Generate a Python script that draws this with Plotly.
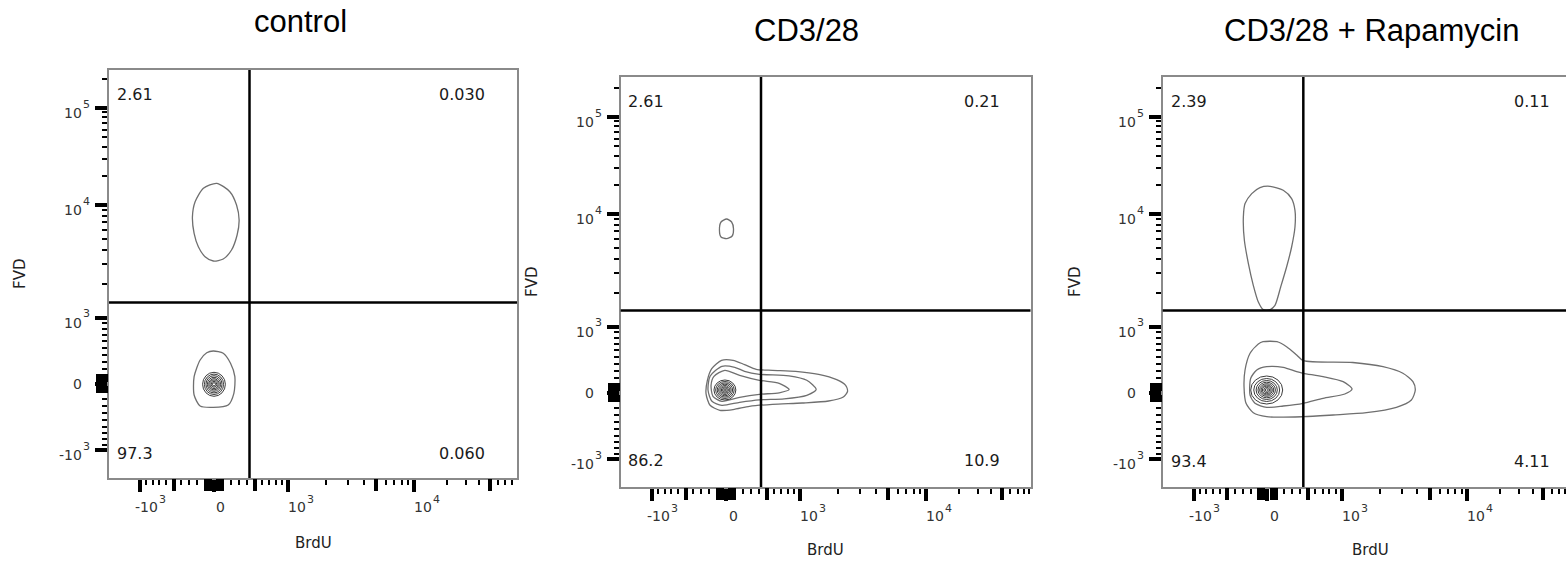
import numpy as np
import plotly.graph_objects as go

W, H = 1566, 562

# ---------------- data ----------------
panel_titles = ["control", "CD3/28", "CD3/28 + Rapamycin"]
x_title = "BrdU"
y_title = "FVD"

# quadrant frequencies (%): upper-left, upper-right, lower-left, lower-right
quad_ul = ["2.61", "2.61", "2.39"]
quad_ur = ["0.030", "0.21", "0.11"]
quad_ll = ["97.3", "86.2", "93.4"]
quad_lr = ["0.060", "10.9", "4.11"]

# quadrant gate positions (raw units)
gate_brdu = [434, 427, 438]
gate_fvd = [1360, 1390, 1390]

# axis ticks (raw units) and their labels (base + exponent)
x_label_ticks = [-1000, 0, 1000, 10000]
x_label_base = ["-10", "0", "10", "10"]
x_label_exp = ["3", "", "3", "4"]
y_label_ticks = [-1000, 0, 1000, 10000, 100000]
y_label_base = ["-10", "0", "10", "10", "10"]
y_label_exp = ["3", "", "3", "4", "5"]
x_heavy_ticks = [-500, -100, -50, 50, 100, 500, 5000, 50000]
y_heavy_ticks = [-100, -50, 50, 100]
minor_ticks = [-900, -800, -700, -600, -400, -300, -200, 200, 300, 400, 600, 700, 800, 900,
               2000, 3000, 4000, 6000, 7000, 8000, 9000,
               20000, 30000, 40000, 60000, 70000, 80000, 90000, 200000]
y_extra_minor = [-500, 500, 5000, 50000]

# contour outlines, in biexponential display units
ctrl_dead_x = [2.4, 14.2, 20.2, 22.5, 20.7, 15.7, 8.3, -0.6, -8.0, -14.0, -17.8, -19.3, -16.9, -9.5]
ctrl_dead_y = [200.7, 192.3, 179.0, 164.0, 149.0, 134.0, 125.0, 123.0, 127.3, 137.3, 150.7, 167.3, 182.3, 195.7]
ctrl_live_x = [-0.6, 8.3, 14.8, 18.7, 17.8, 12.7, -0.6, -12.4, -17.8, -17.8, -12.4, -6.5]
ctrl_live_y = [33.0, 30.7, 20.7, 7.3, -9.3, -21.0, -23.3, -22.0, -11.0, 7.3, 24.0, 31.3]
ctrl_core_center = [0.0, -0.3]
ctrl_core_rx = [10.2, 8.6, 7.2, 5.9, 4.7, 3.6, 2.5, 1.4]
ctrl_core_ry = [12.0, 10.2, 8.6, 7.0, 5.6, 4.2, 2.9, 1.6]

cd3_dead_x = [0.5, 5.0, 6.7, 5.5, 0.5, -4.5, -5.9, -4.5]
cd3_dead_y = [174.0, 171.0, 164.0, 157.0, 154.3, 156.0, 163.0, 171.0]
cd3_c1_x = [-4.0, 6.3, 16.6, 27.0, 41.6, 62.3, 82.9, 99.1, 107.1, 108.8, 105.0, 91.8, 68.2, 41.6,
            21.0, 6.3, -5.5, -14.3, -17.9, -16.7, -12.8]
cd3_c1_y = [32.7, 32.7, 28.4, 23.7, 22.7, 21.7, 18.7, 13.4, 7.7, 1.7, -4.0, -8.0, -10.0, -11.3,
            -13.3, -16.6, -17.3, -12.3, -0.6, 12.7, 24.4]
cd3_c2_x = [-16.1, -14.3, -3.7, 7.8, 16.6, 29.9, 56.4, 72.3, 80.7, 72.3, 52.0, 29.9, 12.2, -3.7, -12.6]
cd3_c2_y = [2.7, 16.7, 26.7, 25.7, 21.7, 18.7, 17.2, 12.7, 3.5, -2.3, -5.8, -6.8, -9.3, -12.3, -8.3]
cd3_c3_x = [-13.4, -10.8, -1.1, 12.2, 29.9, 47.6, 56.5, 47.6, 29.9, 12.2, -3.7, -11.7]
cd3_c3_y = [7.7, 16.7, 22.7, 17.7, 12.7, 9.7, 3.5, 0.2, -1.3, -4.3, -8.3, -3.3]
cd3_core_center = [-1.0, 3.0]
cd3_core_rx = [9.8, 8.3, 6.9, 5.6, 4.4, 3.2, 2.1, 1.0]
cd3_core_ry = [10.0, 8.5, 7.1, 5.8, 4.5, 3.3, 2.2, 1.0]

rapa_dead_x = [2.2, 14.1, 21.6, 24.6, 24.6, 21.6, 17.1, 11.8, 6.7, 2.2, -3.8, -8.2, -12.7, -17.1,
               -20.7, -21.6, -20.1, -14.1, -6.7]
rapa_dead_y = [206.7, 202.7, 194.4, 182.7, 166.0, 146.0, 126.0, 106.0, 87.7, 83.4, 83.4, 91.0, 107.7,
               129.4, 152.7, 176.0, 189.4, 199.4, 205.4]
rapa_c1_x = [-21.0, -20.1, -15.6, -8.2, -4.0, 8.5, 17.1, 26.1, 32.0, 76.3, 103.4, 121.2, 130.2, 132.3,
             128.8, 115.4, 88.6, 58.8, 32.0, -0.7, -12.7, -19.2]
rapa_c1_y = [6.3, 23.0, 39.7, 49.0, 51.3, 51.3, 46.3, 38.0, 32.3, 30.5, 26.3, 19.7, 11.3, 3.0,
             -7.0, -14.3, -19.7, -22.0, -23.7, -23.7, -19.7, -10.3]
rapa_c2_x = [-15.6, -15.0, -9.6, -0.7, 14.1, 26.1, 32.0, 49.8, 67.7, 75.7, 69.2, 49.8, 32.0, 14.1, -0.7, -11.2]
rapa_c2_y = [-2.0, 14.7, 23.0, 26.3, 25.7, 21.3, 19.7, 16.3, 11.3, 4.0, -1.0, -5.3, -10.3, -13.0, -14.3, -10.3]
rapa_core_center = [-0.7, 3.0]
rapa_core_rx = [14.3, 11.6, 9.5, 7.8, 6.3, 5.0, 3.8, 2.6, 1.3]
rapa_core_ry = [14.0, 11.5, 9.5, 7.8, 6.3, 5.0, 3.8, 2.6, 1.3]


# ---------------- biexponential display scale ----------------
def biex(v):
    v = np.asarray(v, dtype=float)
    out = np.empty_like(v)
    lin = np.abs(v) <= 1000
    scale = np.where(v >= 0, 66.5, 66.0)
    out[lin] = (scale * np.arcsinh(v / 1000.0) / np.arcsinh(1.0))[lin]
    hi = v > 1000
    out[hi] = np.interp(np.log10(v[hi]), [3, 4, 5, 6], [66.5, 179.0, 276.0, 373.0])
    lo = v < -1000
    out[lo] = -66.0 - (np.log10(-v[lo]) - 3) * 100.0
    return out


# ---------------- layout geometry (pixels) ----------------
boxes = [  # left, top, right, bottom
    (109.0, 70.0, 517.0, 478.0),
    (620.7, 77.0, 1030.5, 487.0),
    (1162.7, 77.0, 1566.0, 487.0),
]
x_ranges = [[-94.0, 271.3], [-94.3, 272.6], [-93.8, 267.2]]
y_ranges = [[-94.0, 314.0], [-94.0, 316.0], [-94.0, 316.0]]
title_pos = [(300, 22), (806, 30), (1372, 30)]
xt_pos = [(313, 543), (825.6, 550), (1370, 550)]
yt_pos = [(20, 274), (532, 282), (1075, 282)]
quad_left = [117.0, 628.2, 1171.0]
quad_right = [485.0, 1000.5, 1549.7]
quad_top = [94.0, 101.4, 101.5]
quad_bottom = [453.0, 460.6, 461.5]

px = lambda x: x / W
py = lambda y: 1 - y / H

outlines = [
    [(ctrl_dead_x, ctrl_dead_y), (ctrl_live_x, ctrl_live_y)],
    [(cd3_dead_x, cd3_dead_y), (cd3_c1_x, cd3_c1_y), (cd3_c2_x, cd3_c2_y), (cd3_c3_x, cd3_c3_y)],
    [(rapa_dead_x, rapa_dead_y), (rapa_c1_x, rapa_c1_y), (rapa_c2_x, rapa_c2_y)],
]
cores = [
    (ctrl_core_center, ctrl_core_rx, ctrl_core_ry),
    (cd3_core_center, cd3_core_rx, cd3_core_ry),
    (rapa_core_center, rapa_core_rx, rapa_core_ry),
]

fig = go.Figure()
shapes = []
annotations = []
base_font = dict(family="DejaVu Sans", size=14, color="#333333")
exp_font = dict(family="DejaVu Sans", size=11, color="#333333")
axis_common = dict(showgrid=False, zeroline=False, ticks="outside", tickcolor="black",
                   fixedrange=True)


def label(text, font, **kw):
    d = dict(text=text, showarrow=False, font=font, borderpad=0, borderwidth=0)
    d.update(kw)
    annotations.append(d)


for p in range(3):
    n = p + 1
    xa = "x" if p == 0 else f"x{n}"
    ya = "y" if p == 0 else f"y{n}"
    xo, yo = f"x{n + 3}", f"y{n + 3}"  # overlay axes carrying the heavy ticks
    l, t, r, b = boxes[p]

    for cx, cy in outlines[p]:
        fig.add_trace(go.Scatter(
            x=list(cx) + [cx[0]], y=list(cy) + [cy[0]], mode="lines",
            line=dict(color="#6f6f6f", width=1.3, shape="spline", smoothing=0.7),
            xaxis=xa, yaxis=ya, hoverinfo="skip", showlegend=False))
    # empty trace so that the overlay tick axes are created
    fig.add_trace(go.Scatter(x=[], y=[], xaxis=xo, yaxis=yo, hoverinfo="skip", showlegend=False))

    center, rxs, rys = cores[p]
    for rx, ry in zip(rxs, rys):
        shapes.append(dict(type="circle", xref=xa, yref=ya,
                           x0=center[0] - rx, x1=center[0] + rx,
                           y0=center[1] - ry, y1=center[1] + ry,
                           line=dict(color="#3c3c3c", width=1.0), layer="above"))

    gx = float(biex([gate_brdu[p]])[0])
    gy = float(biex([gate_fvd[p]])[0])
    shapes.append(dict(type="line", xref=xa, yref=f"{ya} domain", x0=gx, x1=gx, y0=0, y1=1,
                       line=dict(color="black", width=2.5), layer="above"))
    shapes.append(dict(type="line", xref=f"{xa} domain", yref=ya, x0=0, x1=1, y0=gy, y1=gy,
                       line=dict(color="black", width=2.5), layer="above"))

    xaxis = dict(domain=[px(l), px(r)], range=x_ranges[p], anchor=ya,
                 showline=True, linecolor="#8a8a8a", linewidth=1.5, mirror=True,
                 ticklen=12, tickwidth=3.5, tickmode="array",
                 tickvals=list(biex(x_label_ticks)), showticklabels=False,
                 minor=dict(tickmode="array", tickvals=list(biex(minor_ticks)), ticks="outside",
                            ticklen=5, tickwidth=1.5, tickcolor="black", showgrid=False),
                 **axis_common)
    yaxis = dict(domain=[py(b), py(t)], range=y_ranges[p], anchor=xa,
                 showline=True, linecolor="#8a8a8a", linewidth=1.5, mirror=(p < 2),
                 ticklen=12, tickwidth=3.5, tickmode="array",
                 tickvals=list(biex(y_label_ticks)), showticklabels=False,
                 minor=dict(tickmode="array", tickvals=list(biex(minor_ticks + y_extra_minor)),
                            ticks="outside", ticklen=5, tickwidth=1.5, tickcolor="black",
                            showgrid=False),
                 **axis_common)
    xover = dict(overlaying=xa, range=x_ranges[p], anchor=yo, side="bottom", showline=False,
                 ticklen=12, tickwidth=3.5, tickmode="array",
                 tickvals=list(biex(x_heavy_ticks)), showticklabels=False, **axis_common)
    yover = dict(overlaying=ya, range=y_ranges[p], anchor=xo, side="left", showline=False,
                 ticklen=12, tickwidth=3.5, tickmode="array",
                 tickvals=list(biex(y_heavy_ticks)), showticklabels=False, **axis_common)
    fig.update_layout(**{("xaxis" if p == 0 else f"xaxis{n}"): xaxis,
                         ("yaxis" if p == 0 else f"yaxis{n}"): yaxis,
                         f"xaxis{n + 3}": xover, f"yaxis{n + 3}": yover})

    # x tick labels (FlowJo style: base with raised exponent, set right of the tick)
    for v, base, ex in zip(biex(x_label_ticks), x_label_base, x_label_exp):
        if ex:
            label(base, base_font, xref=xa, yref="paper", x=float(v), y=py(b + 29),
                  xanchor="right", yanchor="middle", xshift=18)
            label(ex, exp_font, xref=xa, yref="paper", x=float(v), y=py(b + 21),
                  xanchor="left", yanchor="middle", xshift=19)
        else:
            label(base, base_font, xref=xa, yref="paper", x=float(v), y=py(b + 29),
                  xanchor="center", yanchor="middle", xshift=7)
    # y tick labels
    for v, base, ex in zip(biex(y_label_ticks), y_label_base, y_label_exp):
        if ex:
            label(base, base_font, xref="paper", yref=ya, x=px(l - 27), y=float(v),
                  xanchor="right", yanchor="middle", yshift=-5)
            label(ex, exp_font, xref="paper", yref=ya, x=px(l - 26), y=float(v),
                  xanchor="left", yanchor="middle", yshift=4)
        else:
            label(base, base_font, xref="paper", yref=ya, x=px(l - 27), y=float(v),
                  xanchor="right", yanchor="middle")

    tx, ty = title_pos[p]
    label(panel_titles[p], dict(family="Liberation Sans, Arial", size=31, color="black"),
          x=px(tx), y=py(ty), xref="paper", yref="paper", xanchor="center", yanchor="middle")
    bx, by = xt_pos[p]
    label(x_title, dict(family="DejaVu Sans", size=15, color="#222222"),
          x=px(bx), y=py(by), xref="paper", yref="paper", xanchor="center", yanchor="middle")
    fx, fy = yt_pos[p]
    label(y_title, dict(family="DejaVu Sans", size=15, color="#222222"),
          x=px(fx), y=py(fy), xref="paper", yref="paper", xanchor="center", yanchor="middle",
          textangle=-90)
    qfont = dict(family="DejaVu Sans", size=16, color="#1a1a1a")
    for txt, qx, qy, anc in [(quad_ul[p], quad_left[p], quad_top[p], "left"),
                             (quad_ur[p], quad_right[p], quad_top[p], "right"),
                             (quad_ll[p], quad_left[p], quad_bottom[p], "left"),
                             (quad_lr[p], quad_right[p], quad_bottom[p], "right")]:
        label(txt, qfont, x=px(qx), y=py(qy), xref="paper", yref="paper",
              xanchor=anc, yanchor="middle")

fig.update_layout(width=W, height=H, autosize=False,
                  margin=dict(l=0, r=0, t=0, b=0, pad=0),
                  paper_bgcolor="white", plot_bgcolor="white",
                  shapes=shapes, annotations=annotations, showlegend=False)

fig.write_html("out.html", config={"displayModeBar": False},
               post_script="document.body.style.margin='0px';"
                           "document.body.style.overflow='hidden';")
